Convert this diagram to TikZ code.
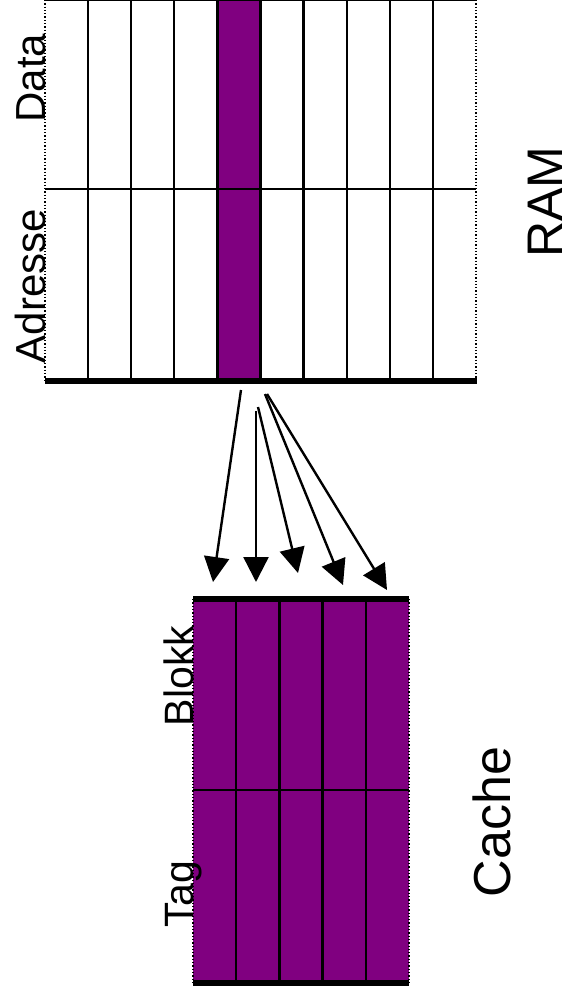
\documentclass[tikz,border=0pt]{standalone}
\usepackage{fontspec}
\setmainfont{Liberation Sans}
\usetikzlibrary{arrows.meta}
\definecolor{blockpurple}{RGB}{128,0,128}
\begin{document}
\begin{tikzpicture}[x=1pt,y=-1pt,
  cellline/.style={line width=2.3pt},
  heavyrule/.style={line width=6pt},
  edgedots/.style={dotted, line width=1.3pt},
  fetch/.style={-{Triangle[length=25pt,width=25pt]}, line width=2.4pt},
  sidetext/.style={rotate=90, anchor=base, inner sep=0pt},
  labelsmall/.style={sidetext, font=\fontsize{42}{50}\selectfont},
  labelbig/.style={sidetext, font=\fontsize{50}{60}\selectfont}
]
\useasboundingbox (0,0) rectangle (571,998);

% ---------- RAM: ten columns, address and data rows ----------
\fill[blockpurple] (217.4,0) rectangle (260.5,380);
\foreach \i in {1,...,9}
  \draw[cellline] ({45+43.1*\i},0) -- ({45+43.1*\i},380);
\draw[cellline] (45,189) -- (476,189);
\draw[cellline] (45,0) -- (476,0);
\draw[edgedots] (45,0) -- (45,380);
\draw[edgedots] (476,0) -- (476,380);
\draw[heavyrule] (45,381) -- (477,381);

\node[labelsmall] (data) at (45,78) {Data};
\node[labelsmall] (adresse) at (45,286) {Adresse};
\node[labelbig, font=\fontsize{50}{60}\selectfont] (ram) at (562,202) {RAM};

% ---------- Cache: five filled columns, tag and block rows ----------
\fill[blockpurple] (193,599) rectangle (409,983);
\foreach \i in {1,...,4}
  \draw[cellline] ({193+43.2*\i},599) -- ({193+43.2*\i},983);
\draw[cellline] (193,790) -- (409,790);
\draw[edgedots] (193,599) -- (193,983);
\draw[edgedots] (409,599) -- (409,983);
\draw[heavyrule] (193,599) -- (409,599);
\draw[heavyrule] (193,983) -- (409,983);

\node[labelsmall, font=\fontsize{41}{48}\selectfont] (blokk) at (193,676) {Blokk};
\node[labelsmall, font=\fontsize{41}{48}\selectfont] (tag) at (193,894) {Tag};
\node[labelbig, font=\fontsize{52}{62}\selectfont] (cache) at (510,822) {Cache};

% ---------- mapping arrows from the RAM block to the cache lines ----------
\coordinate (s1) at (241,390); \coordinate (t1) at (213,582);
\coordinate (s2) at (256,411); \coordinate (t2) at (256,582);
\coordinate (s3) at (258,407); \coordinate (t3) at (298,573);
\coordinate (s4) at (265,394); \coordinate (t4) at (343,585);
\coordinate (s5) at (267,394); \coordinate (t5) at (387,590);
\foreach \k in {1,...,5}
  \draw[fetch] (s\k) -- (t\k);
\end{tikzpicture}
\end{document}
